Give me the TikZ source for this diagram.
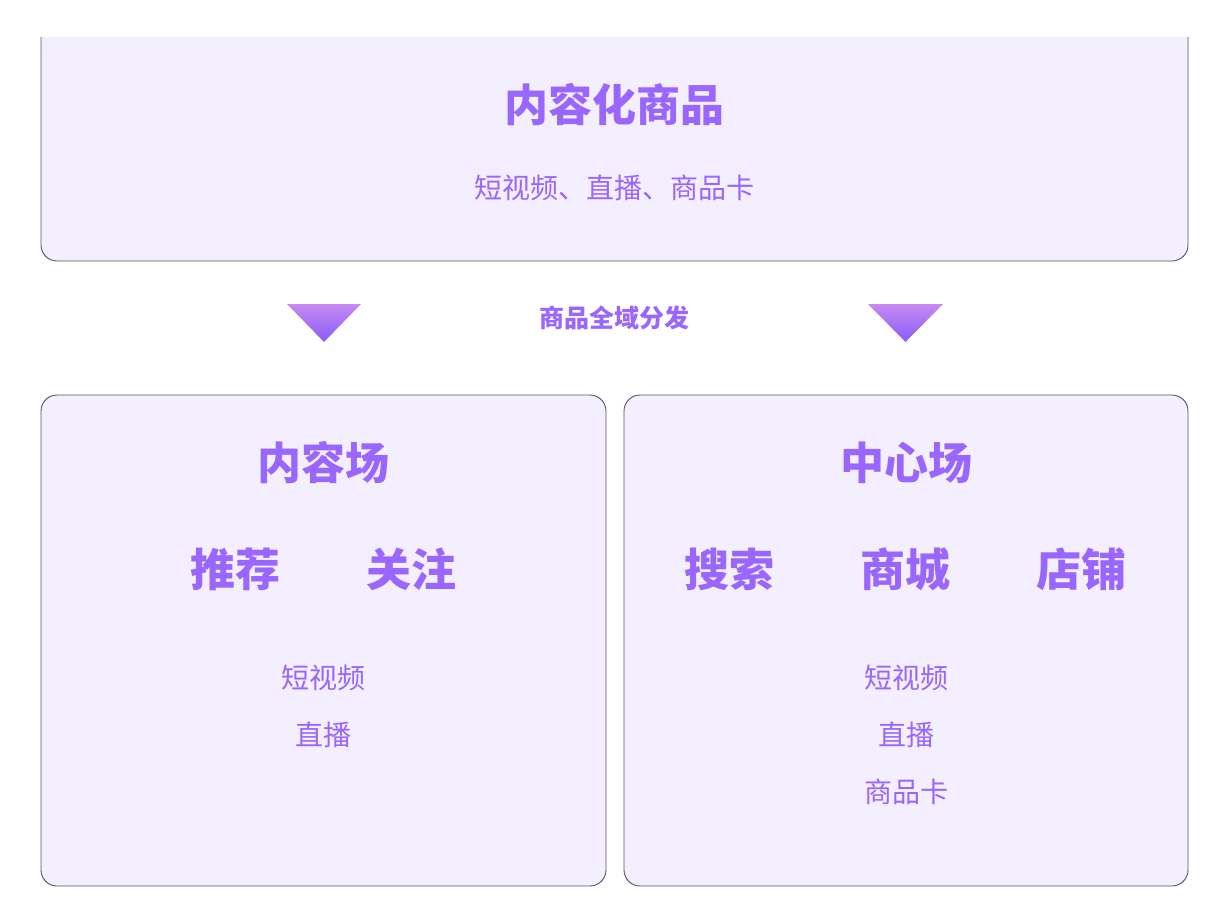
\documentclass[tikz,border=0pt]{standalone}
\usepackage{fontspec}
\setmainfont{Noto Sans CJK SC}
\usetikzlibrary{positioning}
\definecolor{txtpurple}{HTML}{9966FF}
\definecolor{boxfill}{HTML}{F3EFFE}
\definecolor{boxline}{HTML}{55535C}
\definecolor{tritop}{HTML}{C68AF2}
\definecolor{tribot}{HTML}{8A5CF8}

\begin{document}
\begin{tikzpicture}[x=1pt,y=-1pt,
	field/.style={fill=boxfill, draw=boxline, line width=0.9pt, rounded corners=16pt},
	bigtitle/.style={text=txtpurple, font=\fontsize{44}{50}\selectfont\bfseries, inner sep=0pt},
	channel/.style={text=txtpurple, font=\fontsize{45}{50}\selectfont\bfseries, inner sep=0pt},
	sub/.style={text=txtpurple, font=\fontsize{28}{32}\selectfont, inner sep=0pt},
	midlabel/.style={text=txtpurple, font=\fontsize{25}{30}\selectfont\bfseries, inner sep=0pt},
	flow/.style={top color=tritop, bottom color=tribot}]
	\useasboundingbox (0,0) rectangle (1228,922);
	
	\def\lx{323.5} % center left box
	\def\rx{906} % center right box
	
	% top box (cut at the top)
	\path[fill=boxfill] (41,37) rectangle (1188,100);
	\draw[field] (41,37) -- (41,261) -- (1188,261) -- (1188,37);
	\node[bigtitle] (top) at (614,105) {内容化商品};
	\node[sub] (topsub) at (614.5,188) {短视频、直播、商品卡};
	
	% distribution
	\shade[flow] (287,304) -- (361,304) -- (324,342) -- cycle;
	\shade[flow] (868,304) -- (943,304) -- (905.5,342) -- cycle;
	\node[midlabel] (dist) at (614.5,318) {商品全域分发};
	
	% bottom boxes
	\draw[field] (41,395) rectangle (606,886);
	\draw[field] (624,395) rectangle (1188,886);
	
	% content field
	\node[bigtitle] (content) at (\lx,463) {内容场};
	\node[channel] (recommend) at (235,569) {推荐};
	\node[channel] (follow) at (411.5,569) {关注};
	\node[sub] (lvideo) at (\lx,678) {短视频};
	\node[sub] (llive) at (\lx,735) {直播};
	
	% center field
	\node[bigtitle] (center) at (\rx,463) {中心场};
	\node[channel] (search) at (729,569) {搜索};
	\node[channel] (mall) at (905.5,569) {商城};
	\node[channel] (shop) at (1081.5,569) {店铺};
	\node[sub] (rvideo) at (\rx,678) {短视频};
	\node[sub] (rlive) at (\rx,735) {直播};
	\node[sub] (rcard) at (\rx,792) {商品卡};
\end{tikzpicture}
\end{document}
